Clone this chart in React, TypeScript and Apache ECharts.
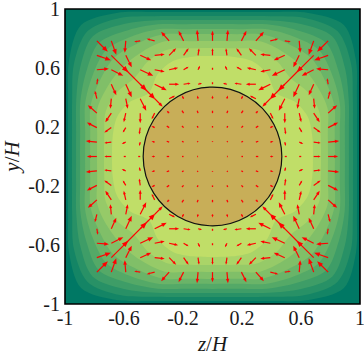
import React, { useEffect, useRef } from 'react';
import * as echarts from 'echarts';

// ---- axis ticks ----
const TICK_LABELS = ['-1', '-0.6', '-0.2', '0.2', '0.6', '1'];

// ---- quiver grid (z/H and y/H positions) ----
const GRID_X = [-0.784, -0.686, -0.588, -0.49, -0.392, -0.294, -0.196, -0.098, 0, 0.098, 0.196, 0.294, 0.392, 0.49, 0.588, 0.686, 0.784];
const GRID_Y = [0.784, 0.686, 0.588, 0.49, 0.392, 0.294, 0.196, 0.098, 0, -0.098, -0.196, -0.294, -0.392, -0.49, -0.588, -0.686, -0.784];

// ---- secondary velocity components (rows top -> bottom, cols left -> right) ----
const U = [
  [11, 5, -1, -6, -8, -8, -5, -1, 0, 1, 5, 8, 8, 6, 1, -5, -11],
  [14, 17, 6, 11, 10, 7, 5, 1, 0, -1, -5, -7, -10, -11, -6, -17, -14],
  [12, 12, 21, 13, 10, 9, 5, 2, 0, -2, -5, -9, -10, -13, -21, -12, -12],
  [1, 5, 6, 15, 12, 10, 7, 4, 0, -4, -7, -10, -12, -15, -6, -5, -1],
  [-2, -1, 2, 6, 8, 6, -1.6, -0.8, 0, 0.8, 1.6, -6, -8, -6, -2, 1, 2],
  [-9, -6, -2, 0, -3, -2.4, -1.6, -0.8, 0, 0.8, 1.6, 2.4, 3, 0, 2, 6, 9],
  [-10, -7, -3, -1, -3.2, -2.4, -1.6, -0.8, 0, 0.8, 1.6, 2.4, 3.2, 1, 3, 7, 10],
  [-11, -7, -4, -1, -3.2, -2.4, -1.6, -0.8, 0, 0.8, 1.6, 2.4, 3.2, 1, 4, 7, 11],
  [-10, -7, -2, -2, -3.2, -2.4, -1.6, -0.8, 0, 0.8, 1.6, 2.4, 3.2, 2, 2, 7, 10],
  [-11, -7, -4, -1, -3.2, -2.4, -1.6, -0.8, 0, 0.8, 1.6, 2.4, 3.2, 1, 4, 7, 11],
  [-10, -7, -3, -1, -3.2, -2.4, -1.6, -0.8, 0, 0.8, 1.6, 2.4, 3.2, 1, 3, 7, 10],
  [-9, -6, -2, 0, -3, -2.4, -1.6, -0.8, 0, 0.8, 1.6, 2.4, 3, 0, 2, 6, 9],
  [-2, -1, 2, 6, 8, 6, -1.6, -0.8, 0, 0.8, 1.6, -6, -8, -6, -2, 1, 2],
  [1, 5, 6, 15, 12, 10, 7, 4, 0, -4, -7, -10, -12, -15, -6, -5, -1],
  [12, 12, 21, 13, 10, 9, 5, 2, 0, -2, -5, -9, -10, -13, -21, -12, -12],
  [14, 17, 6, 11, 10, 7, 5, 1, 0, -1, -5, -7, -10, -11, -6, -17, -14],
  [11, 5, -1, -6, -8, -8, -5, -1, 0, 1, 5, 8, 8, 6, 1, -5, -11],
];
const V = [
  [-11, -14, -12, -1, 2, 9, 10, 11, 10, 11, 10, 9, 2, -1, -12, -14, -11],
  [-5, -17, -12, -5, 1, 7, 7, 7, 7, 7, 7, 7, 1, -5, -12, -17, -5],
  [1, -6, -21, -6, -2, 2, 3, 4, 2, 4, 3, 2, -2, -6, -21, -6, 1],
  [6, -11, -13, -15, -6, 0, 1, 1, 2, 1, 1, 0, -6, -15, -13, -11, 6],
  [8, -10, -10, -12, -8, 3, 3.2, 3.2, 3.2, 3.2, 3.2, 3, -8, -12, -10, -10, 8],
  [8, -9, -9, -10, -6, 2.4, 2.4, 2.4, 2.4, 2.4, 2.4, 2.4, -6, -10, -9, -9, 8],
  [5, -5, -5, -7, 1.6, 1.6, 1.6, 1.6, 1.6, 1.6, 1.6, 1.6, 1.6, -7, -5, -5, 5],
  [1, -1, -2, -4, 0.8, 0.8, 0.8, 0.8, 0.8, 0.8, 0.8, 0.8, 0.8, -4, -2, -1, 1],
  [0, 0, 0, 0, 0, 0, 0, 0, 0, 0, 0, 0, 0, 0, 0, 0, 0],
  [-1, 1, 2, 4, -0.8, -0.8, -0.8, -0.8, -0.8, -0.8, -0.8, -0.8, -0.8, 4, 2, 1, -1],
  [-5, 5, 5, 7, -1.6, -1.6, -1.6, -1.6, -1.6, -1.6, -1.6, -1.6, -1.6, 7, 5, 5, -5],
  [-8, 9, 9, 10, 6, -2.4, -2.4, -2.4, -2.4, -2.4, -2.4, -2.4, 6, 10, 9, 9, -8],
  [-8, 10, 10, 12, 8, -3, -3.2, -3.2, -3.2, -3.2, -3.2, -3, 8, 12, 10, 10, -8],
  [-6, 11, 13, 15, 6, 0, -1, -1, -2, -1, -1, 0, 6, 15, 13, 11, -6],
  [-1, 6, 21, 6, 2, -2, -3, -4, -2, -4, -3, -2, 2, 6, 21, 6, -1],
  [5, 17, 12, 5, -1, -7, -7, -7, -7, -7, -7, -7, -1, 5, 12, 17, 5],
  [11, 14, 12, 1, -2, -9, -10, -11, -10, -11, -10, -9, -2, 1, 12, 14, 11],
];

// ---- contour levels: distance from centre along rays at 0, 11.25, 22.5, 33.75, 45 deg ----
const LEVEL_R0 = [0.98, 0.953, 0.925, 0.898, 0.864, 0.83, 0.783, 0.736, 0.681];
const LEVEL_R11 = [0.999, 0.971, 0.943, 0.915, 0.88, 0.845, 0.797, 0.748, 0.69];
const LEVEL_R22 = [1.06, 1.03, 1.0, 0.97, 0.935, 0.895, 0.845, 0.785, 0.7];
const LEVEL_R34 = [1.17, 1.13, 1.08, 1.03, 0.98, 0.92, 0.855, 0.78, 0.67];
const LEVEL_R45 = [1.26, 1.2, 1.15, 1.09, 1.02, 0.945, 0.86, 0.75, 0.61];
const BAND_COLORS = ['#007864', '#148565', '#289166', '#3e9d67', '#54a967', '#6ab468', '#80bf68', '#96ca68', '#aad468', '#c0de68'];

const CORE_RADIUS = 0.47;
const CORE_COLOR = '#c8ae58';
const ARROW_SCALE = 2 / 295;

const SERIF = "'Liberation Serif', 'DejaVu Serif', serif";

export default function App() {
  const ref = useRef<HTMLDivElement>(null);
  useEffect(() => {
    if (!ref.current) return;
    const chart = echarts.init(ref.current, undefined, { renderer: 'svg' });

    const levelR = [LEVEL_R0, LEVEL_R11, LEVEL_R22, LEVEL_R34, LEVEL_R45];
    const bandData = LEVEL_R0.map((_, i) => [0, 0, i]);
    const arrowData: number[][] = [];
    GRID_Y.forEach((y, r) => {
      GRID_X.forEach((x, c) => {
        arrowData.push([x, y, U[r][c], V[r][c]]);
      });
    });

    const labelFor = (v: number) => {
      const idx = Math.round((v + 1) / 0.2);
      return idx % 2 === 0 ? TICK_LABELS[idx / 2] : '';
    };

    const nameStyle = {
      fontFamily: SERIF,
      fontSize: 21,
      lineHeight: 22,
      color: '#1a1a1a',
      rich: { i: { fontFamily: SERIF, fontSize: 21, lineHeight: 22, fontStyle: 'italic', color: '#1a1a1a' } },
    };

    const axisCommon = {
      type: 'value' as const,
      min: -1,
      max: 1,
      interval: 0.2,
      splitLine: { show: false },
      axisTick: { show: false },
      axisLine: { show: false },
      axisLabel: {
        formatter: labelFor,
        color: '#1a1a1a',
        fontFamily: SERIF,
        fontSize: 20,
        lineHeight: 17,
        margin: 5,
      },
      nameLocation: 'middle' as const,
      nameTextStyle: nameStyle,
    };

    chart.setOption({
      animation: false,
      grid: {
        left: 65,
        right: 4,
        top: 9,
        bottom: 54,
        outerBoundsMode: 'none',
        containLabel: false,
        show: true,
        borderColor: '#000',
        borderWidth: 1.6,
        backgroundColor: BAND_COLORS[0],
      },
      xAxis: { ...axisCommon, name: '{i|z}/{i|H}', nameGap: 29 },
      yAxis: { ...axisCommon, name: '{i|y}/{i|H}', nameGap: 42, nameRotate: 90, nameMoveOverlap: false },
      series: [
        {
          type: 'custom',
          silent: true,
          clip: true,
          data: bandData,
          renderItem: (params: any, api: any) => {
            const i = api.value(2);
            const pts: number[][] = [];
            for (let o = 0; o < 8; o++) {
              for (let s = 0; s < 4; s++) {
                const ang = ((o * 45 + s * 11.25) * Math.PI) / 180;
                const idx = o % 2 === 0 ? s : 4 - s;
                const r = levelR[idx][i];
                pts.push(api.coord([r * Math.cos(ang), r * Math.sin(ang)]));
              }
            }
            return {
              type: 'polygon',
              shape: { points: pts, smooth: 0.3 },
              style: { fill: BAND_COLORS[i + 1] },
            };
          },
        },
        {
          type: 'custom',
          silent: true,
          data: [[0, 0, CORE_RADIUS]],
          renderItem: (params: any, api: any) => {
            const c = api.coord([api.value(0), api.value(1)]);
            const e = api.coord([api.value(0) + api.value(2), api.value(1)]);
            return {
              type: 'circle',
              shape: { cx: c[0], cy: c[1], r: e[0] - c[0] },
              style: { fill: CORE_COLOR, stroke: '#111', lineWidth: 1.2 },
            };
          },
        },
        {
          type: 'custom',
          silent: true,
          data: arrowData,
          renderItem: (params: any, api: any) => {
            const x = api.value(0);
            const y = api.value(1);
            const u = api.value(2);
            const v = api.value(3);
            const p0 = api.coord([x, y]);
            const p1 = api.coord([x + u * ARROW_SCALE, y + v * ARROW_SCALE]);
            const dx = p1[0] - p0[0];
            const dy = p1[1] - p0[1];
            const len = Math.hypot(dx, dy);
            if (len < 0.4) return { type: 'group', children: [] };
            const red = '#ff0000';
            if (len < 3) {
              return {
                type: 'line',
                shape: { x1: p0[0], y1: p0[1], x2: p1[0], y2: p1[1] },
                style: { stroke: red, lineWidth: 1.3 },
              };
            }
            const h = Math.min(6.5, Math.max(2.5, len * 0.38));
            const w = h * 0.4;
            const ux = dx / len;
            const uy = dy / len;
            const bx = p1[0] - ux * h * 0.8;
            const by = p1[1] - uy * h * 0.8;
            const hx = p1[0] - ux * h;
            const hy = p1[1] - uy * h;
            return {
              type: 'group',
              children: [
                {
                  type: 'line',
                  shape: { x1: p0[0], y1: p0[1], x2: bx, y2: by },
                  style: { stroke: red, lineWidth: 1.2 },
                },
                {
                  type: 'polygon',
                  shape: { points: [[p1[0], p1[1]], [hx - uy * w, hy + ux * w], [hx + uy * w, hy - ux * w]] },
                  style: { fill: red },
                },
              ],
            };
          },
        },
      ],
    });
    return () => chart.dispose();
  }, []);
  return <div ref={ref} style={{ position: 'absolute', left: 0, top: 0, width: 364, height: 358 }} />;
}
